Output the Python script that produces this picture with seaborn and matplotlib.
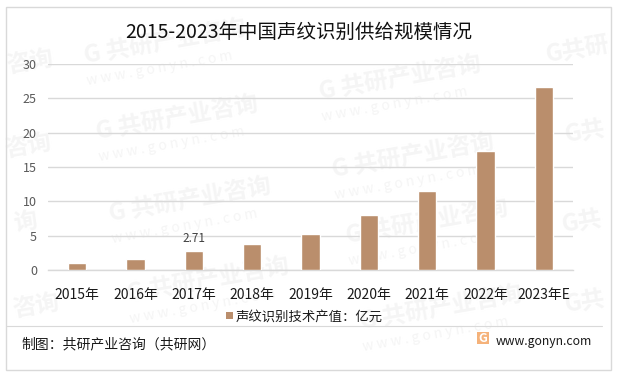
# -*- coding: utf-8 -*-
# 2015-2023 voiceprint recognition market size bar chart
import numpy as np
import pandas as pd
import matplotlib
matplotlib.use("Agg")
import matplotlib.pyplot as plt
from matplotlib.patches import Rectangle
from matplotlib.lines import Line2D
import seaborn as sns

sns.set_theme(style="white")
plt.rcParams['font.family'] = ['Noto Sans CJK SC', 'DejaVu Sans']

# Data
years = ["2015年", "2016年", "2017年", "2018年", "2019年", "2020年", "2021年", "2022年", "2023年E"]
output_value = [1.0, 1.55, 2.71, 3.75, 5.2, 7.95, 11.45, 17.3, 26.6]
y_ticks = [0, 5, 10, 15, 20, 25, 30]
series_name = "声纹识别技术产值：亿元"

W, H = 618, 375
BAR = "#BA8E6C"
GRID = "#D9D9D9"
WM = "#F5F5F5"

df = pd.DataFrame({"year": years, "value": output_value})

fig = plt.figure(figsize=(W / 100, H / 100), dpi=100, facecolor="white")


def fx(x):
    return x / W


def fy(y):
    return 1 - y / H


# Faint watermarks behind everything
wm_spots = [(165, 42), (177, 118), (190, 200), (208, 280),
            (400, 78), (413, 156), (427, 222), (441, 308)]
for x, y in wm_spots:
    fig.text(fx(x), fy(y), "G 共研产业咨询", fontsize=17, fontweight="bold", color=WM,
             rotation=10, ha="center", va="center", zorder=0)
    fig.text(fx(x - 5), fy(y + 26), "w w w . g o n y n . c o m", fontsize=10, color=WM,
             rotation=10, ha="center", va="center", zorder=0)

# Watermark pieces cut by the frame in the original, kept inside the picture here
edge_marks = [(30, 62, "咨询"), (28, 146, "咨询"), (25, 222, "询"), (36, 306, "咨询"),
              (578, 50, "G共研"), (585, 132, "G共"), (582, 222, "G共"), (585, 302, "G共")]
for x, y, label in edge_marks:
    fig.text(fx(x), fy(y), label, fontsize=17, fontweight="bold", color=WM,
             rotation=10, ha="center", va="center", zorder=0)

ax = fig.add_axes([fx(48), fy(270), (573 - 48) / W, (270 - 64) / H])
ax.patch.set_alpha(0)
ax.set_zorder(5)

sns.barplot(data=df, x="year", y="value", color=BAR, saturation=1, width=0.31, ax=ax, zorder=3)

ax.set_ylim(0, 30)
ax.set_xlim(-0.5, len(years) - 0.5)
ax.set_yticks(y_ticks)
ax.set_xlabel("")
ax.set_ylabel("")
ax.yaxis.grid(True, color=GRID, linewidth=1)
ax.set_axisbelow(True)
sns.despine(ax=ax, left=True, top=True, right=True)
ax.spines["bottom"].set_color(GRID)
ax.spines["bottom"].set_linewidth(1)
ax.tick_params(axis="y", labelsize=9, labelcolor="#595959", length=0, pad=8)
ax.tick_params(axis="x", labelsize=10, labelcolor="#1A1A1A", length=0, pad=13)

# only 2017 is labelled in the original
ax.text(2, output_value[2] + 1.0, "2.71", ha="center", va="bottom", fontsize=8.5, color="#404040")

fig.text(fx(299), fy(32), "2015-2023年中国声纹识别供给规模情况", fontsize=14, color="#111111",
         ha="center", va="center", zorder=6)

# legend
fig.add_artist(Rectangle((fx(226), fy(319)), 7 / W, 7 / H, transform=fig.transFigure,
                         facecolor=BAR, edgecolor="none", zorder=6))
fig.text(fx(236), fy(317), series_name, fontsize=9.6, color="#1A1A1A", ha="left", va="center", zorder=6)

# footer
fig.add_artist(Line2D([fx(6), fx(602)], [fy(325.5), fy(325.5)], color="#D9D9D9", linewidth=0.8, zorder=6))
fig.text(fx(21), fy(344), "制图：共研产业咨询（共研网）", fontsize=10, color="#1A1A1A",
         ha="left", va="center", zorder=6)
fig.add_artist(Rectangle((fx(477), fy(344)), 12 / W, 12 / H, transform=fig.transFigure,
                         facecolor="#F5B27A", edgecolor="none", zorder=6))
fig.text(fx(483), fy(338), "G", fontsize=9, fontweight="bold", color="white", ha="center", va="center", zorder=7)
fig.text(fx(496), fy(341), "www.gonyn.com", fontsize=8.8, color="#1A1A1A", ha="left", va="center", zorder=6)

# outer frame
fig.add_artist(Rectangle((fx(6), fy(370)), 605 / W, 363 / H, transform=fig.transFigure,
                         facecolor="none", edgecolor="#D9D9D9", linewidth=1, zorder=6))

fig.savefig("out.png", dpi=100)
